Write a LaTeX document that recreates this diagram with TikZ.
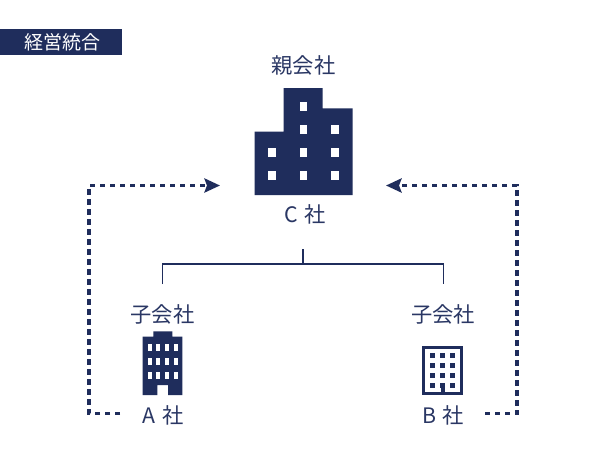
\documentclass[tikz,border=0pt]{standalone}
\usepackage{fontspec}
\newfontfamily\cjk{Noto Sans CJK JP}
\usetikzlibrary{arrows.meta}
\definecolor{navy}{HTML}{1F2D5C}
\definecolor{txt}{HTML}{2A3764}
\tikzset{
  lab/.style={font=\cjk\fontsize{21.3}{25}\selectfont,text=txt,inner sep=0pt,anchor=center},
  tree/.style={draw=navy,line width=1.9pt},
  flow/.style={draw=navy,line width=3.5pt,dash pattern=on 5.4pt off 4.6pt,-{Stealth[length=15.5pt,width=14pt,inset=2.5pt]}},
  win/.style={fill=white,draw=none},
}
\begin{document}
\begin{tikzpicture}[x=1pt,y=-1pt]
\useasboundingbox (0,0) rectangle (610,460);
\fill[white] (0,0) rectangle (610,460);
% banner
\node[fill=navy,minimum width=122pt,minimum height=25.5pt,inner sep=0pt,anchor=north west,text=white,font=\cjk\fontsize{19}{22}\selectfont] (banner) at (0,29) {\hspace*{2pt}経営統合};
% parent building
\fill[navy] (254.5,195) -- (254.5,131.7) -- (283.7,131.7) -- (283.7,88) -- (322.7,88) -- (322.7,108.3) -- (352.5,108.3) -- (352.5,195) -- cycle;
\foreach \x/\y in {303.3/106.7,303.3/129.7,335/129.7,272/152.3,303.3/152.3,335/152.3,272/175.7,303.3/175.7,335/175.7}
  \fill[win] (\x-3.7,\y-4.5) rectangle (\x+3.7,\y+4.5);
% building A
\fill[navy] (142.7,395) -- (142.7,336.7) -- (153.3,336.7) -- (153.3,331.3) -- (172.3,331.3) -- (172.3,336.7) -- (182.3,336.7) -- (182.3,395) -- (168,395) -- (168,385) -- (157.3,385) -- (157.3,395) -- cycle;
\foreach \x in {150,158.3,167,175.7}
  \foreach \y in {347.3,361.3,375.3}
    \fill[win] (\x-2,\y-3.3) rectangle (\x+2,\y+3.3);
% building B
\draw[navy,line width=3.4pt] (423.7,347.4) rectangle (461.6,393.6);
\foreach \x in {432.7,442.7,452.7}
  \foreach \y in {355.7,365.3,375.3,385.3}
    \fill[navy] (\x-2.7,\y-2.7) rectangle (\x+2.7,\y+2.7);
\fill[navy] (440.7,382.7) rectangle (445,393);
% labels
\node[lab] (oya) at (303.5,65.5) {親会社};
\node[lab] (c) at (305,214.5) {C\hspace{0.3em}社};
\node[lab] (koa) at (162.5,314) {子会社};
\node[lab] (kob) at (443,314) {子会社};
\node[lab] (a) at (163,415) {A\hspace{0.3em}社};
\node[lab] (b) at (443,415) {B\hspace{0.3em}社};
% tree
\coordinate (ctop) at (303,249);
\coordinate (cmid) at (303,264);
\coordinate (al) at (162.5,264);
\coordinate (ar) at (443.5,264);
\coordinate (ad) at (162.5,284);
\coordinate (bd) at (443.5,284);
\draw[tree] (ctop) -- (cmid);
\draw[tree] (ad) -- (al) -- (ar) -- (bd);
% flows
\coordinate (lstart) at (120,413.5);
\coordinate (lc) at (89,413.5);
\coordinate (lt) at (89,185.5);
\coordinate (ltip) at (220,185.5);
\coordinate (rstart) at (485,413.5);
\coordinate (rc) at (517,413.5);
\coordinate (rt) at (517,185.5);
\coordinate (rtip) at (386,185.5);
\draw[flow] (lstart) -- (lc) -- (lt) -- (ltip);
\draw[flow] (rstart) -- (rc) -- (rt) -- (rtip);
\end{tikzpicture}
\end{document}
